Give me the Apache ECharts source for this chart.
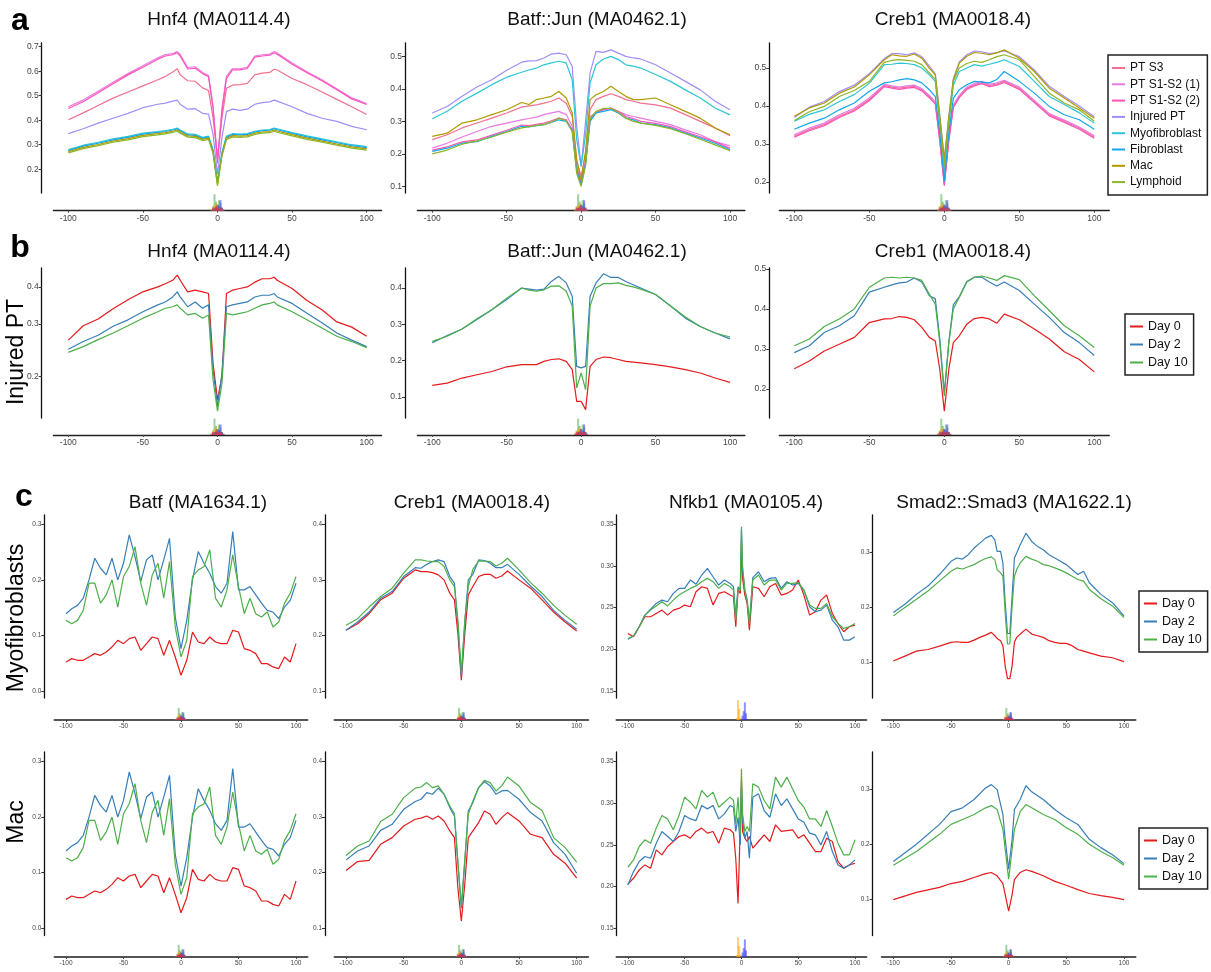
<!DOCTYPE html>
<html>
<head>
<meta charset="utf-8">
<script src="https://cdn.jsdelivr.net/npm/echarts@6/dist/echarts.min.js"></script>
<style>
  html, body { margin: 0; background: #fff; }
  #chart { width: 1211px; height: 972px; }
</style>
</head>
<body>
<div id="chart"></div>
<script>
// ---- x positions (bp from motif centre) ----
const X_TICKS = [-100, -50, 0, 50, 100]
const X_STD = [-100, -90, -80, -70, -60, -50, -40, -35, -30, -25, -20, -15, -10, -6, -3, 0, 3, 6, 10, 15, 20, 25, 30, 35, 40, 50, 60, 70, 80, 90, 100]
const X_HNF4 = [-100, -90, -80, -70, -60, -50, -40, -35, -30, -27, -25, -20, -15, -10, -6, -3, 0, 3, 6, 10, 15, 20, 25, 30, 35, 38, 40, 50, 60, 70, 80, 90, 100]
const X_BATF = [-100, -95, -90, -85, -80, -75, -70, -65, -60, -55, -50, -45, -40, -35, -30, -25, -20, -15, -10, -5, 0, 5, 10, 15, 20, 25, 30, 35, 40, 45, 50, 55, 60, 65, 70, 75, 80, 85, 90, 95, 100]
const X_NFKB = [-100, -95, -90, -85, -80, -75, -70, -65, -60, -55, -50, -45, -40, -35, -30, -25, -20, -15, -10, -7, -5, -3, -1, 0, 1, 3, 5, 7, 10, 15, 20, 25, 30, 35, 40, 45, 50, 55, 60, 65, 70, 75, 80, 85, 90, 95, 100]
const X_SMAD_MYO = [-100, -90, -80, -70, -60, -50, -45, -40, -35, -30, -25, -20, -15, -12, -10, -7, -5, -3, -1, 0, 1, 3, 5, 7, 10, 15, 20, 25, 30, 35, 40, 45, 50, 55, 60, 65, 70, 80, 90, 100]
const X_SMAD_MAC = [-100, -80, -60, -50, -40, -30, -20, -15, -10, -5, -3, 0, 3, 5, 10, 15, 20, 30, 40, 50, 60, 70, 80, 90, 100]

// ---- a: Hnf4, all cell types ----
const hnf4_s3 = [0.402, 0.43, 0.46, 0.49, 0.515, 0.54, 0.565, 0.578, 0.597, 0.61, 0.585, 0.561, 0.559, 0.532, 0.521, 0.41, 0.25, 0.41, 0.53, 0.543, 0.545, 0.55, 0.585, 0.592, 0.595, 0.608, 0.605, 0.57, 0.545, 0.515, 0.485, 0.455, 0.423]
const hnf4_s12a = [0.455, 0.482, 0.518, 0.555, 0.59, 0.622, 0.655, 0.668, 0.672, 0.68, 0.668, 0.615, 0.618, 0.595, 0.582, 0.46, 0.24, 0.45, 0.58, 0.61, 0.61, 0.616, 0.662, 0.667, 0.67, 0.68, 0.674, 0.633, 0.598, 0.565, 0.528, 0.491, 0.468]
const hnf4_s12b = [0.448, 0.475, 0.512, 0.549, 0.585, 0.616, 0.649, 0.662, 0.667, 0.675, 0.662, 0.609, 0.612, 0.59, 0.577, 0.448, 0.225, 0.435, 0.57, 0.605, 0.605, 0.611, 0.657, 0.662, 0.665, 0.675, 0.669, 0.628, 0.594, 0.561, 0.524, 0.487, 0.464]
const hnf4_inj = [0.345, 0.365, 0.388, 0.408, 0.428, 0.451, 0.465, 0.47, 0.478, 0.482, 0.465, 0.445, 0.447, 0.428, 0.425, 0.344, 0.18, 0.33, 0.435, 0.445, 0.44, 0.445, 0.465, 0.472, 0.475, 0.482, 0.478, 0.455, 0.428, 0.408, 0.395, 0.375, 0.361]
const hnf4_myo = [0.28, 0.298, 0.31, 0.324, 0.334, 0.347, 0.354, 0.358, 0.363, 0.368, 0.36, 0.344, 0.342, 0.33, 0.335, 0.28, 0.15, 0.27, 0.335, 0.345, 0.343, 0.345, 0.355, 0.36, 0.362, 0.368, 0.365, 0.35, 0.336, 0.324, 0.312, 0.3, 0.292]
const hnf4_fib = [0.276, 0.294, 0.306, 0.32, 0.33, 0.343, 0.35, 0.354, 0.36, 0.364, 0.357, 0.34, 0.338, 0.326, 0.332, 0.275, 0.145, 0.265, 0.33, 0.342, 0.34, 0.342, 0.352, 0.357, 0.359, 0.365, 0.361, 0.346, 0.332, 0.32, 0.308, 0.296, 0.288]
const hnf4_mac = [0.272, 0.289, 0.301, 0.315, 0.325, 0.338, 0.345, 0.349, 0.355, 0.36, 0.352, 0.336, 0.334, 0.322, 0.327, 0.27, 0.138, 0.26, 0.326, 0.337, 0.335, 0.337, 0.347, 0.352, 0.354, 0.36, 0.356, 0.341, 0.327, 0.315, 0.303, 0.291, 0.283]
const hnf4_lym = [0.267, 0.284, 0.296, 0.31, 0.32, 0.333, 0.34, 0.344, 0.35, 0.355, 0.347, 0.331, 0.329, 0.317, 0.322, 0.265, 0.132, 0.255, 0.32, 0.332, 0.33, 0.332, 0.342, 0.347, 0.349, 0.355, 0.351, 0.336, 0.322, 0.31, 0.298, 0.286, 0.278]

// ---- a: Batf::Jun ----
const bj_s3 = [0.244, 0.259, 0.28, 0.295, 0.31, 0.326, 0.344, 0.348, 0.351, 0.356, 0.362, 0.372, 0.356, 0.315, 0.18, 0.131, 0.2, 0.337, 0.367, 0.377, 0.385, 0.377, 0.367, 0.362, 0.356, 0.351, 0.341, 0.321, 0.3, 0.28, 0.256]
const bj_s12a = [0.218, 0.233, 0.252, 0.269, 0.285, 0.295, 0.305, 0.309, 0.313, 0.321, 0.326, 0.331, 0.321, 0.285, 0.165, 0.115, 0.18, 0.315, 0.326, 0.336, 0.341, 0.331, 0.321, 0.315, 0.31, 0.3, 0.29, 0.274, 0.259, 0.238, 0.225]
const bj_s12b = [0.212, 0.222, 0.237, 0.243, 0.258, 0.273, 0.289, 0.287, 0.291, 0.295, 0.302, 0.31, 0.305, 0.275, 0.155, 0.11, 0.175, 0.305, 0.33, 0.336, 0.34, 0.33, 0.315, 0.309, 0.3, 0.294, 0.284, 0.268, 0.253, 0.237, 0.217]
const bj_inj = [0.326, 0.346, 0.377, 0.406, 0.428, 0.457, 0.482, 0.486, 0.487, 0.495, 0.507, 0.51, 0.505, 0.469, 0.285, 0.162, 0.3, 0.449, 0.515, 0.512, 0.52, 0.51, 0.5, 0.495, 0.492, 0.474, 0.449, 0.423, 0.397, 0.362, 0.336]
const bj_myo = [0.308, 0.331, 0.362, 0.387, 0.413, 0.436, 0.451, 0.458, 0.464, 0.474, 0.48, 0.485, 0.479, 0.428, 0.244, 0.162, 0.26, 0.418, 0.474, 0.492, 0.5, 0.49, 0.474, 0.47, 0.464, 0.444, 0.423, 0.397, 0.372, 0.341, 0.32]
const bj_fib = [0.208, 0.218, 0.233, 0.238, 0.254, 0.269, 0.285, 0.283, 0.287, 0.29, 0.297, 0.305, 0.3, 0.27, 0.15, 0.105, 0.17, 0.3, 0.326, 0.331, 0.336, 0.326, 0.31, 0.305, 0.295, 0.29, 0.28, 0.264, 0.249, 0.233, 0.213]
const bj_mac = [0.254, 0.264, 0.295, 0.305, 0.321, 0.336, 0.358, 0.352, 0.367, 0.372, 0.377, 0.392, 0.372, 0.326, 0.182, 0.12, 0.21, 0.367, 0.382, 0.392, 0.408, 0.392, 0.377, 0.367, 0.367, 0.372, 0.351, 0.331, 0.31, 0.28, 0.259]
const bj_lym = [0.2, 0.212, 0.23, 0.24, 0.252, 0.267, 0.28, 0.284, 0.288, 0.29, 0.298, 0.31, 0.302, 0.27, 0.14, 0.1, 0.165, 0.31, 0.33, 0.34, 0.34, 0.328, 0.31, 0.3, 0.295, 0.288, 0.278, 0.262, 0.245, 0.228, 0.21]

// ---- a: Creb1 ----
const cr_s3 = [0.32, 0.338, 0.351, 0.373, 0.39, 0.417, 0.454, 0.45, 0.447, 0.45, 0.452, 0.443, 0.425, 0.408, 0.311, 0.193, 0.311, 0.399, 0.425, 0.447, 0.456, 0.462, 0.454, 0.458, 0.465, 0.447, 0.412, 0.377, 0.36, 0.342, 0.318]
const cr_s12a = [0.324, 0.342, 0.355, 0.377, 0.394, 0.421, 0.457, 0.453, 0.45, 0.453, 0.455, 0.446, 0.428, 0.411, 0.315, 0.197, 0.315, 0.402, 0.428, 0.45, 0.459, 0.465, 0.457, 0.461, 0.468, 0.45, 0.415, 0.38, 0.363, 0.345, 0.322]
const cr_s12b = [0.318, 0.335, 0.348, 0.37, 0.387, 0.414, 0.451, 0.447, 0.444, 0.447, 0.449, 0.44, 0.422, 0.405, 0.308, 0.19, 0.308, 0.396, 0.422, 0.444, 0.453, 0.459, 0.451, 0.455, 0.462, 0.444, 0.409, 0.374, 0.357, 0.339, 0.315]
const cr_inj = [0.37, 0.397, 0.412, 0.438, 0.455, 0.485, 0.525, 0.538, 0.538, 0.535, 0.54, 0.53, 0.505, 0.485, 0.375, 0.26, 0.372, 0.472, 0.516, 0.535, 0.545, 0.543, 0.538, 0.541, 0.545, 0.53, 0.495, 0.452, 0.425, 0.4, 0.372]
const cr_myo = [0.36, 0.378, 0.39, 0.412, 0.43, 0.46, 0.509, 0.51, 0.513, 0.512, 0.509, 0.5, 0.482, 0.465, 0.35, 0.224, 0.35, 0.455, 0.491, 0.5, 0.509, 0.505, 0.51, 0.515, 0.522, 0.504, 0.465, 0.425, 0.404, 0.382, 0.355]
const cr_fib = [0.339, 0.355, 0.368, 0.39, 0.408, 0.439, 0.461, 0.464, 0.469, 0.472, 0.469, 0.461, 0.443, 0.425, 0.329, 0.202, 0.33, 0.42, 0.443, 0.456, 0.465, 0.463, 0.461, 0.47, 0.491, 0.465, 0.434, 0.399, 0.377, 0.364, 0.339]
const cr_mac = [0.373, 0.395, 0.408, 0.434, 0.45, 0.482, 0.522, 0.535, 0.532, 0.531, 0.537, 0.526, 0.5, 0.482, 0.373, 0.259, 0.37, 0.469, 0.513, 0.531, 0.541, 0.539, 0.535, 0.54, 0.548, 0.526, 0.491, 0.447, 0.421, 0.395, 0.368]
const cr_lym = [0.362, 0.385, 0.399, 0.425, 0.441, 0.465, 0.515, 0.52, 0.522, 0.52, 0.518, 0.509, 0.487, 0.47, 0.36, 0.241, 0.36, 0.465, 0.5, 0.512, 0.518, 0.515, 0.522, 0.53, 0.535, 0.522, 0.478, 0.434, 0.408, 0.39, 0.36]

// ---- b: Injured PT by day ----
const ipt_hnf4_d0 = [0.265, 0.296, 0.312, 0.338, 0.362, 0.385, 0.4, 0.41, 0.421, 0.438, 0.421, 0.385, 0.39, 0.385, 0.38, 0.222, 0.167, 0.2, 0.38, 0.39, 0.395, 0.4, 0.415, 0.426, 0.426, 0.431, 0.421, 0.395, 0.36, 0.335, 0.305, 0.293, 0.273]
const ipt_hnf4_d2 = [0.247, 0.262, 0.275, 0.295, 0.31, 0.33, 0.348, 0.356, 0.37, 0.385, 0.37, 0.343, 0.356, 0.339, 0.348, 0.211, 0.159, 0.205, 0.343, 0.348, 0.352, 0.356, 0.37, 0.375, 0.375, 0.38, 0.37, 0.352, 0.326, 0.303, 0.28, 0.265, 0.252]
const ipt_hnf4_d10 = [0.241, 0.252, 0.266, 0.28, 0.296, 0.314, 0.33, 0.339, 0.343, 0.348, 0.339, 0.322, 0.326, 0.314, 0.322, 0.195, 0.153, 0.19, 0.326, 0.322, 0.326, 0.33, 0.339, 0.348, 0.352, 0.356, 0.348, 0.33, 0.31, 0.291, 0.273, 0.262, 0.25]
const ipt_bj_d0 = [0.132, 0.138, 0.152, 0.161, 0.17, 0.183, 0.189, 0.189, 0.189, 0.198, 0.203, 0.205, 0.198, 0.175, 0.088, 0.088, 0.065, 0.184, 0.203, 0.21, 0.208, 0.203, 0.198, 0.196, 0.194, 0.189, 0.183, 0.175, 0.166, 0.152, 0.14]
const ipt_bj_d2 = [0.249, 0.269, 0.287, 0.313, 0.34, 0.368, 0.4, 0.397, 0.394, 0.397, 0.418, 0.432, 0.414, 0.377, 0.184, 0.18, 0.184, 0.377, 0.414, 0.439, 0.429, 0.429, 0.418, 0.409, 0.4, 0.382, 0.35, 0.317, 0.294, 0.276, 0.26]
const ipt_bj_d10 = [0.253, 0.267, 0.287, 0.315, 0.34, 0.372, 0.4, 0.394, 0.391, 0.395, 0.405, 0.406, 0.391, 0.35, 0.125, 0.166, 0.12, 0.35, 0.4, 0.412, 0.412, 0.414, 0.407, 0.403, 0.397, 0.382, 0.351, 0.32, 0.294, 0.276, 0.265]
const ipt_cr_d0 = [0.251, 0.27, 0.295, 0.312, 0.329, 0.366, 0.375, 0.376, 0.381, 0.379, 0.373, 0.354, 0.329, 0.32, 0.249, 0.145, 0.249, 0.316, 0.333, 0.362, 0.376, 0.379, 0.375, 0.364, 0.387, 0.373, 0.35, 0.325, 0.293, 0.274, 0.243]
const ipt_cr_d2 = [0.291, 0.308, 0.341, 0.358, 0.383, 0.442, 0.454, 0.46, 0.465, 0.467, 0.477, 0.467, 0.433, 0.425, 0.325, 0.191, 0.316, 0.41, 0.43, 0.468, 0.479, 0.479, 0.467, 0.457, 0.467, 0.446, 0.412, 0.379, 0.341, 0.316, 0.284]
const ipt_cr_d10 = [0.308, 0.325, 0.356, 0.375, 0.4, 0.454, 0.477, 0.479, 0.477, 0.479, 0.477, 0.471, 0.437, 0.412, 0.316, 0.183, 0.316, 0.4, 0.429, 0.467, 0.479, 0.482, 0.477, 0.471, 0.483, 0.473, 0.433, 0.396, 0.358, 0.333, 0.304]

// ---- c: Batf (myofibroblasts and Mac read the same) ----
const batf_d0 = [0.052, 0.058, 0.055, 0.055, 0.061, 0.067, 0.064, 0.07, 0.079, 0.091, 0.085, 0.094, 0.097, 0.073, 0.085, 0.097, 0.094, 0.064, 0.091, 0.061, 0.028, 0.055, 0.106, 0.088, 0.085, 0.097, 0.088, 0.085, 0.085, 0.109, 0.106, 0.076, 0.073, 0.067, 0.049, 0.049, 0.043, 0.04, 0.061, 0.052, 0.085]
const batf_d2 = [0.139, 0.148, 0.154, 0.167, 0.2, 0.239, 0.221, 0.209, 0.239, 0.2, 0.23, 0.281, 0.242, 0.197, 0.236, 0.245, 0.2, 0.236, 0.275, 0.133, 0.076, 0.127, 0.2, 0.251, 0.23, 0.212, 0.188, 0.176, 0.194, 0.287, 0.182, 0.182, 0.188, 0.173, 0.158, 0.145, 0.142, 0.13, 0.151, 0.163, 0.194]
const batf_d10 = [0.127, 0.121, 0.127, 0.145, 0.194, 0.194, 0.158, 0.173, 0.2, 0.151, 0.206, 0.224, 0.26, 0.194, 0.154, 0.209, 0.23, 0.167, 0.233, 0.115, 0.061, 0.091, 0.206, 0.218, 0.224, 0.254, 0.167, 0.151, 0.182, 0.245, 0.188, 0.139, 0.167, 0.139, 0.133, 0.142, 0.115, 0.124, 0.158, 0.176, 0.206]

// ---- c: Creb1 ----
const crmyo_d0 = [0.209, 0.221, 0.239, 0.264, 0.276, 0.303, 0.318, 0.315, 0.315, 0.313, 0.309, 0.3, 0.276, 0.264, 0.203, 0.119, 0.203, 0.273, 0.288, 0.306, 0.31, 0.31, 0.303, 0.307, 0.316, 0.3, 0.285, 0.264, 0.242, 0.224, 0.208]
const crmyo_d2 = [0.209, 0.224, 0.242, 0.267, 0.279, 0.306, 0.322, 0.321, 0.328, 0.333, 0.336, 0.333, 0.306, 0.294, 0.22, 0.125, 0.225, 0.3, 0.31, 0.336, 0.335, 0.33, 0.322, 0.322, 0.328, 0.31, 0.289, 0.27, 0.245, 0.227, 0.211]
const crmyo_d10 = [0.218, 0.23, 0.251, 0.27, 0.285, 0.312, 0.336, 0.336, 0.334, 0.333, 0.333, 0.324, 0.3, 0.288, 0.227, 0.131, 0.227, 0.288, 0.319, 0.334, 0.334, 0.333, 0.325, 0.33, 0.339, 0.318, 0.295, 0.276, 0.254, 0.236, 0.22]
const crmac_d0 = [0.204, 0.22, 0.222, 0.251, 0.263, 0.284, 0.296, 0.298, 0.302, 0.296, 0.302, 0.293, 0.275, 0.263, 0.172, 0.113, 0.18, 0.263, 0.275, 0.29, 0.311, 0.305, 0.287, 0.299, 0.308, 0.293, 0.269, 0.263, 0.233, 0.217, 0.19]
const crmac_d2 = [0.223, 0.239, 0.248, 0.276, 0.287, 0.314, 0.328, 0.332, 0.344, 0.341, 0.352, 0.341, 0.317, 0.302, 0.217, 0.136, 0.22, 0.311, 0.326, 0.353, 0.364, 0.356, 0.341, 0.347, 0.348, 0.332, 0.308, 0.293, 0.254, 0.233, 0.199]
const crmac_d10 = [0.231, 0.248, 0.257, 0.292, 0.305, 0.335, 0.352, 0.354, 0.362, 0.353, 0.356, 0.341, 0.32, 0.306, 0.22, 0.139, 0.225, 0.305, 0.329, 0.353, 0.366, 0.362, 0.347, 0.356, 0.372, 0.356, 0.326, 0.312, 0.263, 0.245, 0.219]

// ---- c: Nfkb1 ----
const nfmyo_d0 = [0.219, 0.215, 0.227, 0.239, 0.239, 0.243, 0.247, 0.241, 0.247, 0.249, 0.253, 0.251, 0.269, 0.275, 0.273, 0.253, 0.267, 0.269, 0.265, 0.263, 0.227, 0.271, 0.267, 0.327, 0.285, 0.265, 0.255, 0.223, 0.275, 0.273, 0.263, 0.275, 0.279, 0.265, 0.267, 0.271, 0.283, 0.265, 0.241, 0.245, 0.259, 0.265, 0.243, 0.231, 0.221, 0.227, 0.229]
const nfmyo_d2 = [0.212, 0.216, 0.227, 0.241, 0.248, 0.255, 0.259, 0.257, 0.267, 0.273, 0.273, 0.283, 0.278, 0.289, 0.297, 0.287, 0.277, 0.283, 0.279, 0.275, 0.239, 0.275, 0.271, 0.343, 0.295, 0.271, 0.259, 0.233, 0.286, 0.293, 0.281, 0.285, 0.286, 0.273, 0.281, 0.277, 0.279, 0.271, 0.251, 0.245, 0.247, 0.253, 0.235, 0.227, 0.211, 0.211, 0.215]
const nfmyo_d10 = [0.213, 0.216, 0.227, 0.241, 0.247, 0.252, 0.257, 0.252, 0.259, 0.265, 0.269, 0.273, 0.276, 0.281, 0.285, 0.281, 0.273, 0.279, 0.275, 0.271, 0.235, 0.273, 0.271, 0.347, 0.299, 0.271, 0.259, 0.231, 0.283, 0.289, 0.277, 0.283, 0.283, 0.271, 0.279, 0.279, 0.28, 0.271, 0.253, 0.249, 0.249, 0.255, 0.239, 0.231, 0.225, 0.227, 0.231]
const nfmac_d0 = [0.203, 0.21, 0.22, 0.226, 0.222, 0.244, 0.238, 0.248, 0.254, 0.26, 0.262, 0.258, 0.266, 0.27, 0.264, 0.266, 0.252, 0.27, 0.268, 0.264, 0.234, 0.18, 0.274, 0.327, 0.266, 0.258, 0.254, 0.26, 0.246, 0.254, 0.262, 0.254, 0.274, 0.266, 0.267, 0.268, 0.258, 0.262, 0.252, 0.242, 0.242, 0.258, 0.254, 0.23, 0.222, 0.226, 0.228]
const nfmac_d2 = [0.202, 0.218, 0.23, 0.236, 0.234, 0.252, 0.266, 0.26, 0.254, 0.266, 0.285, 0.281, 0.279, 0.297, 0.293, 0.297, 0.281, 0.287, 0.297, 0.295, 0.266, 0.283, 0.25, 0.319, 0.28, 0.258, 0.266, 0.234, 0.307, 0.311, 0.291, 0.283, 0.311, 0.297, 0.305, 0.293, 0.281, 0.277, 0.264, 0.262, 0.25, 0.266, 0.242, 0.226, 0.222, 0.226, 0.232]
const nfmac_d10 = [0.223, 0.232, 0.248, 0.256, 0.252, 0.27, 0.285, 0.281, 0.268, 0.285, 0.307, 0.301, 0.293, 0.315, 0.307, 0.313, 0.295, 0.301, 0.307, 0.303, 0.275, 0.307, 0.262, 0.341, 0.287, 0.266, 0.272, 0.266, 0.323, 0.319, 0.303, 0.293, 0.331, 0.319, 0.331, 0.317, 0.303, 0.295, 0.281, 0.281, 0.272, 0.291, 0.272, 0.252, 0.238, 0.238, 0.256]

// ---- c: Smad2::Smad3 ----
const smmyo_d0 = [0.102, 0.111, 0.12, 0.123, 0.129, 0.136, 0.137, 0.136, 0.136, 0.14, 0.145, 0.149, 0.154, 0.148, 0.143, 0.139, 0.13, 0.093, 0.07, 0.07, 0.07, 0.093, 0.136, 0.145, 0.151, 0.16, 0.151, 0.148, 0.145, 0.139, 0.136, 0.134, 0.134, 0.13, 0.123, 0.12, 0.117, 0.111, 0.108, 0.101]
const smmyo_d2 = [0.19, 0.205, 0.223, 0.238, 0.259, 0.283, 0.289, 0.287, 0.295, 0.307, 0.316, 0.325, 0.33, 0.322, 0.301, 0.301, 0.28, 0.208, 0.152, 0.152, 0.152, 0.22, 0.289, 0.298, 0.313, 0.334, 0.319, 0.31, 0.304, 0.295, 0.289, 0.283, 0.277, 0.268, 0.259, 0.265, 0.244, 0.223, 0.208, 0.184]
const smmyo_d10 = [0.184, 0.199, 0.214, 0.229, 0.247, 0.265, 0.271, 0.269, 0.273, 0.277, 0.283, 0.288, 0.291, 0.286, 0.268, 0.262, 0.256, 0.19, 0.133, 0.133, 0.133, 0.202, 0.256, 0.268, 0.28, 0.292, 0.287, 0.283, 0.277, 0.275, 0.271, 0.267, 0.262, 0.256, 0.25, 0.247, 0.232, 0.215, 0.202, 0.181]
const smmac_d0 = [0.1, 0.113, 0.122, 0.129, 0.133, 0.14, 0.147, 0.149, 0.143, 0.129, 0.109, 0.079, 0.109, 0.136, 0.149, 0.154, 0.151, 0.143, 0.133, 0.126, 0.118, 0.111, 0.107, 0.104, 0.1]
const smmac_d2 = [0.169, 0.2, 0.236, 0.259, 0.266, 0.281, 0.302, 0.308, 0.299, 0.254, 0.209, 0.155, 0.209, 0.263, 0.281, 0.306, 0.295, 0.281, 0.263, 0.248, 0.236, 0.209, 0.194, 0.181, 0.165]
const smmac_d10 = [0.162, 0.187, 0.218, 0.236, 0.245, 0.254, 0.266, 0.27, 0.263, 0.227, 0.191, 0.137, 0.191, 0.227, 0.259, 0.272, 0.266, 0.254, 0.245, 0.23, 0.218, 0.2, 0.187, 0.176, 0.162]

// ---- motif logos under each panel (relative letter heights) ----
const LOGO_X = [-4, -3, -2, -1, 0, 1, 2, 3, 4]
const LOGO_GREEN = [0.05, 0.15, 0.55, 0.3, 0.2, 0.35, 0.25, 0.1, 0.05]
const LOGO_ORANGE = [0.05, 0.12, 0.2, 0.25, 0.15, 0.1, 0.15, 0.05, 0.02]
const LOGO_BLUE = [0.02, 0.05, 0.1, 0.1, 0.2, 0.15, 0.35, 0.1, 0.03]
const LOGO_RED = [0.02, 0.1, 0.05, 0.15, 0.1, 0.05, 0.1, 0.05, 0.02]
const NFKB_ORANGE = [0.1, 0.9, 0.5, 0.1, 0.05, 0, 0, 0, 0]
const NFKB_BLUE = [0, 0, 0, 0, 0.05, 0.2, 0.4, 0.8, 0.3]
const NFKB_NONE = [0, 0, 0, 0, 0, 0, 0, 0, 0]

// ---- axis ticks ----
const YT_A1 = [0.2, 0.3, 0.4, 0.5, 0.6, 0.7]
const YT_A2 = [0.1, 0.2, 0.3, 0.4, 0.5]
const YT_A3 = [0.2, 0.3, 0.4, 0.5]
const YT_B1 = [0.2, 0.3, 0.4]
const YT_B2 = [0.1, 0.2, 0.3, 0.4]
const YT_B3 = [0.2, 0.3, 0.4, 0.5]
const YT_BATF = [0, 0.1, 0.2, 0.3]
const YT_CREB = [0.1, 0.2, 0.3, 0.4]
const YT_NFKB = [0.15, 0.2, 0.25, 0.3, 0.35]
const YT_SMAD = [0.1, 0.2, 0.3]

const CELL_TYPES = ['PT S3', 'PT S1-S2 (1)', 'PT S1-S2 (2)', 'Injured PT', 'Myofibroblast', 'Fibroblast', 'Mac', 'Lymphoid']
const DAYS = ['Day 0', 'Day 2', 'Day 10']

const COLORS = {
  'PT S3': '#F2708F', 'PT S1-S2 (1)': '#E679E4', 'PT S1-S2 (2)': '#FF52B4',
  'Injured PT': '#A18DFA', 'Myofibroblast': '#2EC5D6', 'Fibroblast': '#12A8E8',
  'Mac': '#B09A00', 'Lymphoid': '#8DB526',
  'Day 0': '#E41A1C', 'Day 2': '#377EB8', 'Day 10': '#4DAF4A'
}
const FONT = '"Liberation Sans", Helvetica, Arial, sans-serif'

const ROW_A = { T: 43, B: 193, xy: 210.7, logoH: 30, small: false }
const ROW_B = { T: 268, B: 418, xy: 435, logoH: 30, small: false }
const ROW_C1 = { T: 515, B: 698, xy: 720, logoH: 22, small: true }
const ROW_C2 = { T: 752, B: 935.5, xy: 957, logoH: 22, small: true }
const COL_AB = [{ L: 53.4, R: 381.6, yx: 41.7 }, { L: 417.4, R: 744.9, yx: 405 }, { L: 779.3, R: 1109.3, yx: 769.3 }]
const COL_C = [{ L: 54.5, R: 307.5, yx: 44.3 }, { L: 334.5, R: 588.2, yx: 325 }, { L: 616.5, R: 866.4, yx: 616.5 }, { L: 881.8, R: 1135.5, yx: 872.7 }]

const cells = (a, b, c, d, e, f, g, h) => [['PT S3', a], ['PT S1-S2 (1)', b], ['PT S1-S2 (2)', c], ['Injured PT', d], ['Myofibroblast', e], ['Fibroblast', f], ['Mac', g], ['Lymphoid', h]]
const days = (a, b, c) => [['Day 0', a], ['Day 2', b], ['Day 10', c]]

const PANELS = [
  { title: 'Hnf4 (MA0114.4)', tx: 219, ty: 20, row: ROW_A, col: COL_AB[0], ymin: 0.103, ymax: 0.715, yt: YT_A1, dec: 1, x: X_HNF4,
    lines: cells(hnf4_s3, hnf4_s12a, hnf4_s12b, hnf4_inj, hnf4_myo, hnf4_fib, hnf4_mac, hnf4_lym) },
  { title: 'Batf::Jun (MA0462.1)', tx: 597, ty: 20, row: ROW_A, col: COL_AB[1], ymin: 0.08, ymax: 0.541, yt: YT_A2, dec: 1, x: X_STD,
    lines: cells(bj_s3, bj_s12a, bj_s12b, bj_inj, bj_myo, bj_fib, bj_mac, bj_lym) },
  { title: 'Creb1 (MA0018.4)', tx: 953, ty: 20, row: ROW_A, col: COL_AB[2], ymin: 0.171, ymax: 0.566, yt: YT_A3, dec: 1, x: X_STD,
    lines: cells(cr_s3, cr_s12a, cr_s12b, cr_inj, cr_myo, cr_fib, cr_mac, cr_lym) },
  { title: 'Hnf4 (MA0114.4)', tx: 219, ty: 252, row: ROW_B, col: COL_AB[0], ymin: 0.145, ymax: 0.463, yt: YT_B1, dec: 1, x: X_HNF4, log: true,
    lines: days(ipt_hnf4_d0, ipt_hnf4_d2, ipt_hnf4_d10) },
  { title: 'Batf::Jun (MA0462.1)', tx: 597, ty: 252, row: ROW_B, col: COL_AB[1], ymin: 0.042, ymax: 0.455, yt: YT_B2, dec: 1, x: X_STD,
    lines: days(ipt_bj_d0, ipt_bj_d2, ipt_bj_d10) },
  { title: 'Creb1 (MA0018.4)', tx: 953, ty: 252, row: ROW_B, col: COL_AB[2], ymin: 0.128, ymax: 0.502, yt: YT_B3, dec: 1, x: X_STD,
    lines: days(ipt_cr_d0, ipt_cr_d2, ipt_cr_d10) },
  { title: 'Batf (MA1634.1)', tx: 198, ty: 503, row: ROW_C1, col: COL_C[0], ymin: -0.013, ymax: 0.317, yt: YT_BATF, dec: 1, x: X_BATF,
    lines: days(batf_d0, batf_d2, batf_d10) },
  { title: 'Creb1 (MA0018.4)', tx: 472, ty: 503, row: ROW_C1, col: COL_C[1], ymin: 0.087, ymax: 0.417, yt: YT_CREB, dec: 1, x: X_STD,
    lines: days(crmyo_d0, crmyo_d2, crmyo_d10) },
  { title: 'Nfkb1 (MA0105.4)', tx: 746, ty: 503, row: ROW_C1, col: COL_C[2], ymin: 0.1416, ymax: 0.361, yt: YT_NFKB, dec: 2, x: X_NFKB, nfkb: true,
    lines: days(nfmyo_d0, nfmyo_d2, nfmyo_d10) },
  { title: 'Smad2::Smad3 (MA1622.1)', tx: 1014, ty: 503, row: ROW_C1, col: COL_C[3], ymin: 0.035, ymax: 0.367, yt: YT_SMAD, dec: 1, x: X_SMAD_MYO,
    lines: days(smmyo_d0, smmyo_d2, smmyo_d10) },
  { row: ROW_C2, col: COL_C[0], ymin: -0.013, ymax: 0.317, yt: YT_BATF, dec: 1, x: X_BATF,
    lines: days(batf_d0, batf_d2, batf_d10) },
  { row: ROW_C2, col: COL_C[1], ymin: 0.087, ymax: 0.417, yt: YT_CREB, dec: 1, x: X_STD,
    lines: days(crmac_d0, crmac_d2, crmac_d10) },
  { row: ROW_C2, col: COL_C[2], ymin: 0.1416, ymax: 0.361, yt: YT_NFKB, dec: 2, x: X_NFKB, nfkb: true,
    lines: days(nfmac_d0, nfmac_d2, nfmac_d10) },
  { row: ROW_C2, col: COL_C[3], ymin: 0.035, ymax: 0.367, yt: YT_SMAD, dec: 1, x: X_SMAD_MAC,
    lines: days(smmac_d0, smmac_d2, smmac_d10) }
]

const grid = [], xAxis = [], yAxis = [], series = [], graphic = []

PANELS.forEach((p, i) => {
  const r = p.row, c = p.col
  const fs = r.small ? 6.5 : 8.5
  const g = grid.length
  grid.push({ left: c.L, top: r.T, width: c.R - c.L, height: r.B - r.T, outerBoundsMode: 'none' })
  xAxis.push({
    type: 'value', gridIndex: g, position: 'bottom', min: -110, max: 110, offset: r.xy - r.B,
    axisLine: { onZero: false, lineStyle: { color: r.small ? '#555' : '#222', width: r.small ? 2 : 1.3 } },
    axisTick: { customValues: X_TICKS, length: 2, lineStyle: { color: '#444' } },
    axisLabel: { customValues: X_TICKS, fontSize: fs, color: '#444', margin: 3, fontFamily: FONT },
    splitLine: { show: false }
  })
  yAxis.push({
    type: p.log ? 'log' : 'value', logBase: 10, gridIndex: g, position: 'left', min: p.ymin, max: p.ymax, offset: c.L - c.yx,
    axisLine: { show: true, onZero: false, lineStyle: { color: '#111', width: 1.3 } },
    axisTick: { show: true, customValues: p.yt, length: 3, lineStyle: { color: '#333' } },
    axisLabel: { customValues: p.yt, formatter: v => v.toFixed(p.dec), fontSize: fs, color: '#444', margin: 3, fontFamily: FONT },
    splitLine: { show: false }
  })
  p.lines.forEach(([name, ys]) => {
    series.push({
      type: 'line', name, xAxisIndex: g, yAxisIndex: g,
      data: p.x.map((x, k) => [x, ys[k]]),
      showSymbol: false, silent: true,
      lineStyle: { width: 1.2, color: COLORS[name] }, itemStyle: { color: COLORS[name] }
    })
  })

  // motif logo strip
  const lg = grid.length
  grid.push({ left: c.L, top: r.xy - r.logoH, width: c.R - c.L, height: r.logoH, outerBoundsMode: 'none' })
  xAxis.push({ type: 'value', gridIndex: lg, min: -110, max: 110, show: false })
  yAxis.push({ type: 'value', gridIndex: lg, min: 0, max: 1, show: false })
  const parts = p.nfkb
    ? [['#FFA500', NFKB_ORANGE], ['#3333FF', NFKB_BLUE], ['#4DAF4A', NFKB_NONE]]
    : [['#4DAF4A', LOGO_GREEN], ['#FFA500', LOGO_ORANGE], ['#3333FF', LOGO_BLUE], ['#FF2222', LOGO_RED]]
  parts.forEach(([col, h]) => {
    series.push({
      type: 'bar', xAxisIndex: lg, yAxisIndex: lg, stack: 'logo' + i, barWidth: 2, silent: true,
      data: LOGO_X.map((x, k) => [x, h[k]]),
      itemStyle: { color: col, opacity: 0.55 }
    })
  })

  if (p.title) {
    graphic.push({ type: 'text', x: p.tx, y: p.ty, silent: true,
      style: { text: p.title, font: '19px ' + FONT, fill: '#111', align: 'center', verticalAlign: 'middle', textAlign: 'center', textVerticalAlign: 'middle' } })
  }
})

// panel letters and row labels
;[['a', 20, 21], ['b', 20, 248], ['c', 24, 497]].forEach(([t, x, y]) => {
  graphic.push({ type: 'text', x, y, silent: true,
    style: { text: t, font: 'bold 32px ' + FONT, fill: '#000', align: 'center', verticalAlign: 'middle', textAlign: 'center', textVerticalAlign: 'middle' } })
})
;[['Injured PT', 17, 352], ['Myofibroblasts', 17, 618], ['Mac', 17, 822]].forEach(([t, x, y]) => {
  graphic.push({ type: 'text', x, y, rotation: Math.PI / 2, silent: true,
    style: { text: t, font: '23px ' + FONT, fill: '#000', align: 'center', verticalAlign: 'middle', textAlign: 'center', textVerticalAlign: 'middle' } })
})

const legendBase = {
  orient: 'vertical', icon: 'rect', itemWidth: 13, itemHeight: 2, selectedMode: false,
  borderColor: '#222', borderWidth: 1.5, borderRadius: 0, backgroundColor: '#fff'
}
const legend = [
  Object.assign({}, legendBase, { data: CELL_TYPES, left: 1108, top: 55, padding: [7, 6, 7, 4], itemGap: 4.3,
    textStyle: { fontSize: 12, color: '#111', fontFamily: FONT } }),
  Object.assign({}, legendBase, { data: DAYS, left: 1125, top: 314, padding: [6, 6, 6, 5], itemGap: 5,
    textStyle: { fontSize: 12.5, color: '#111', fontFamily: FONT } }),
  Object.assign({}, legendBase, { data: DAYS, left: 1139, top: 591, padding: [6, 6, 6, 5], itemGap: 5,
    textStyle: { fontSize: 12.5, color: '#111', fontFamily: FONT } }),
  Object.assign({}, legendBase, { data: DAYS, left: 1139, top: 828, padding: [6, 6, 6, 5], itemGap: 5,
    textStyle: { fontSize: 12.5, color: '#111', fontFamily: FONT } })
]

const chart = echarts.init(document.getElementById('chart'), null, { renderer: 'canvas' })
chart.setOption({
  backgroundColor: '#fff',
  animation: false,
  textStyle: { fontFamily: FONT },
  grid, xAxis, yAxis, series, legend, graphic
})
</script>
</body>
</html>
